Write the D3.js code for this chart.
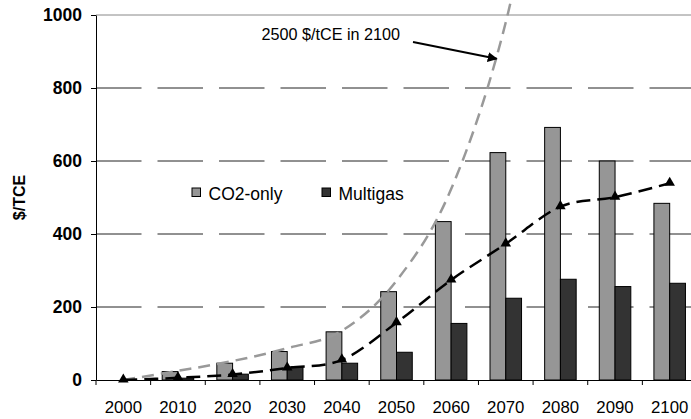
<!DOCTYPE html>
<html>
<head>
<meta charset="utf-8">
<script src="https://cdn.jsdelivr.net/npm/d3@7"></script>
<style>
  html, body { margin: 0; padding: 0; background: #fff; }
  svg { display: block; font-family: "Liberation Sans", Arial, sans-serif; }
</style>
</head>
<body>
<svg id="chart" width="691" height="419"></svg>
<script>
// Carbon price by decade ($/TCE)
const years = ["2000", "2010", "2020", "2030", "2040", "2050", "2060", "2070", "2080", "2090", "2100"];
const seriesNames = ["CO2-only", "Multigas"];
const co2Only  = [0, 23, 46, 78, 132, 242, 434, 623, 692, 600, 484];
const multigas = [0, 5, 16, 36, 46, 76, 155, 224, 276, 256, 265];
// Price paths drawn as dashed lines
const pathHigh = [0, 25, 52, 87, 135, 272, 523, 980, 1700, 2100, 2500];
const pathLow  = [0, 6, 15, 33, 55, 157, 274, 373, 475, 501, 539];
const yTicks = [0, 200, 400, 600, 800, 1000];
const annotationText = "2500 $/tCE in 2100";

const svg = d3.select("#chart");
const plotLeft = 96, plotRight = 697, plotTop = 15, plotBottom = 380;

const x = d3.scaleBand().domain(years).range([plotLeft, plotRight]).padding(0);
const xs = d3.scaleBand().domain(seriesNames).range([0, x.bandwidth()])
  .paddingInner(0).paddingOuter(0.733);
const y = d3.scaleLinear().domain([0, 1000]).range([plotBottom, plotTop]);
const colors = { "CO2-only": "#969696", "Multigas": "#333333" };

// dashed horizontal gridlines
svg.append("g").selectAll("line")
  .data(yTicks.filter(v => v > 0 && v < 1000))
  .join("line")
  .attr("x1", plotLeft).attr("x2", plotRight)
  .attr("y1", d => y(d)).attr("y2", d => y(d))
  .attr("stroke", "#222").attr("stroke-width", 1)
  .attr("stroke-dasharray", "45.5,16");

// plot area top border
svg.append("line")
  .attr("x1", plotLeft).attr("x2", plotRight)
  .attr("y1", y(1000)).attr("y2", y(1000))
  .attr("stroke", "#888").attr("stroke-width", 1);

// bars
const rows = years.map((yr, i) => ({ year: yr, values: [
  { name: "CO2-only", v: co2Only[i] },
  { name: "Multigas", v: multigas[i] }
]}));
svg.append("g").selectAll("g")
  .data(rows).join("g")
  .attr("transform", d => `translate(${x(d.year)},0)`)
  .selectAll("rect")
  .data(d => d.values.filter(e => e.v > 0))
  .join("rect")
  .attr("x", d => xs(d.name))
  .attr("width", xs.bandwidth())
  .attr("y", d => y(d.v))
  .attr("height", d => y(0) - y(d.v))
  .attr("fill", d => colors[d.name])
  .attr("stroke", "#000").attr("stroke-width", 1);

// dashed price lines
const cx = yr => x(yr) + x.bandwidth() / 2;
const line = d3.line()
  .x((d, i) => cx(years[i]))
  .y(d => y(d))
  .curve(d3.curveCatmullRom.alpha(0));

svg.append("path")
  .attr("d", line(pathHigh))
  .attr("fill", "none")
  .attr("stroke", "#999").attr("stroke-width", 2.5)
  .attr("stroke-dasharray", "12,7");

svg.append("path")
  .attr("d", line(pathLow))
  .attr("fill", "none")
  .attr("stroke", "#000").attr("stroke-width", 2.5)
  .attr("stroke-dasharray", "14,7");

svg.append("g").selectAll("path")
  .data(pathLow).join("path")
  .attr("transform", (d, i) => `translate(${cx(years[i])},${y(d) - 0.5})`)
  .attr("d", d3.symbol().type(d3.symbolTriangle).size(48))
  .attr("fill", "#000");

// axes
const yAxis = svg.append("g")
  .attr("transform", `translate(${plotLeft},0)`)
  .call(d3.axisLeft(y).tickValues(yTicks).tickFormat(d3.format("d"))
    .tickSize(5).tickPadding(9).tickSizeOuter(0));
yAxis.select(".domain").attr("stroke", "#000");
yAxis.selectAll("text")
  .attr("font-size", 17.5).attr("font-weight", "bold")
  .attr("font-family", "'Liberation Sans', Arial, sans-serif").attr("fill", "#000");

const xAxis = svg.append("g")
  .attr("transform", `translate(0,${plotBottom})`)
  .call(d3.axisBottom(x).tickSize(0).tickPadding(21.5).tickSizeOuter(0));
xAxis.select(".domain").attr("stroke", "#000");
xAxis.selectAll("text")
  .attr("font-size", 16.8)
  .attr("font-family", "'Liberation Sans', Arial, sans-serif").attr("fill", "#000");

// category boundary ticks
svg.append("g").selectAll("line")
  .data(years.concat(["end"]))
  .join("line")
  .attr("x1", d => d === "end" ? plotRight : x(d))
  .attr("x2", d => d === "end" ? plotRight : x(d))
  .attr("y1", plotBottom).attr("y2", plotBottom + 5)
  .attr("stroke", "#000");

// y-axis title
svg.append("text")
  .attr("transform", `translate(25,${(plotTop + plotBottom) / 2}) rotate(-90)`)
  .attr("text-anchor", "middle")
  .attr("font-size", 16).attr("font-weight", "bold")
  .text("$/TCE");

// legend
const legend = svg.append("g").selectAll("g")
  .data(seriesNames).join("g")
  .attr("transform", (d, i) => `translate(${[192, 322][i]},188)`);
legend.append("rect")
  .attr("width", 8.5).attr("height", 8.5)
  .attr("fill", d => colors[d]).attr("stroke", "#000").attr("stroke-width", 1);
legend.append("text")
  .attr("x", 16.5).attr("y", 12)
  .attr("font-size", 17.5)
  .text(d => d);

// annotation with arrow
svg.append("defs").append("marker")
  .attr("id", "arrowhead")
  .attr("viewBox", "0 0 10 10")
  .attr("refX", 9).attr("refY", 5)
  .attr("markerWidth", 5).attr("markerHeight", 5)
  .attr("orient", "auto")
  .append("path").attr("d", "M0,0 L10,5 L0,10 Z").attr("fill", "#000");

svg.append("text")
  .attr("x", 261.5).attr("y", 40)
  .attr("font-size", 16.2)
  .text(annotationText);

svg.append("line")
  .attr("x1", 413).attr("y1", 42)
  .attr("x2", cx("2070") - 9).attr("y2", y(880))
  .attr("stroke", "#000").attr("stroke-width", 2)
  .attr("marker-end", "url(#arrowhead)");
</script>
</body>
</html>
